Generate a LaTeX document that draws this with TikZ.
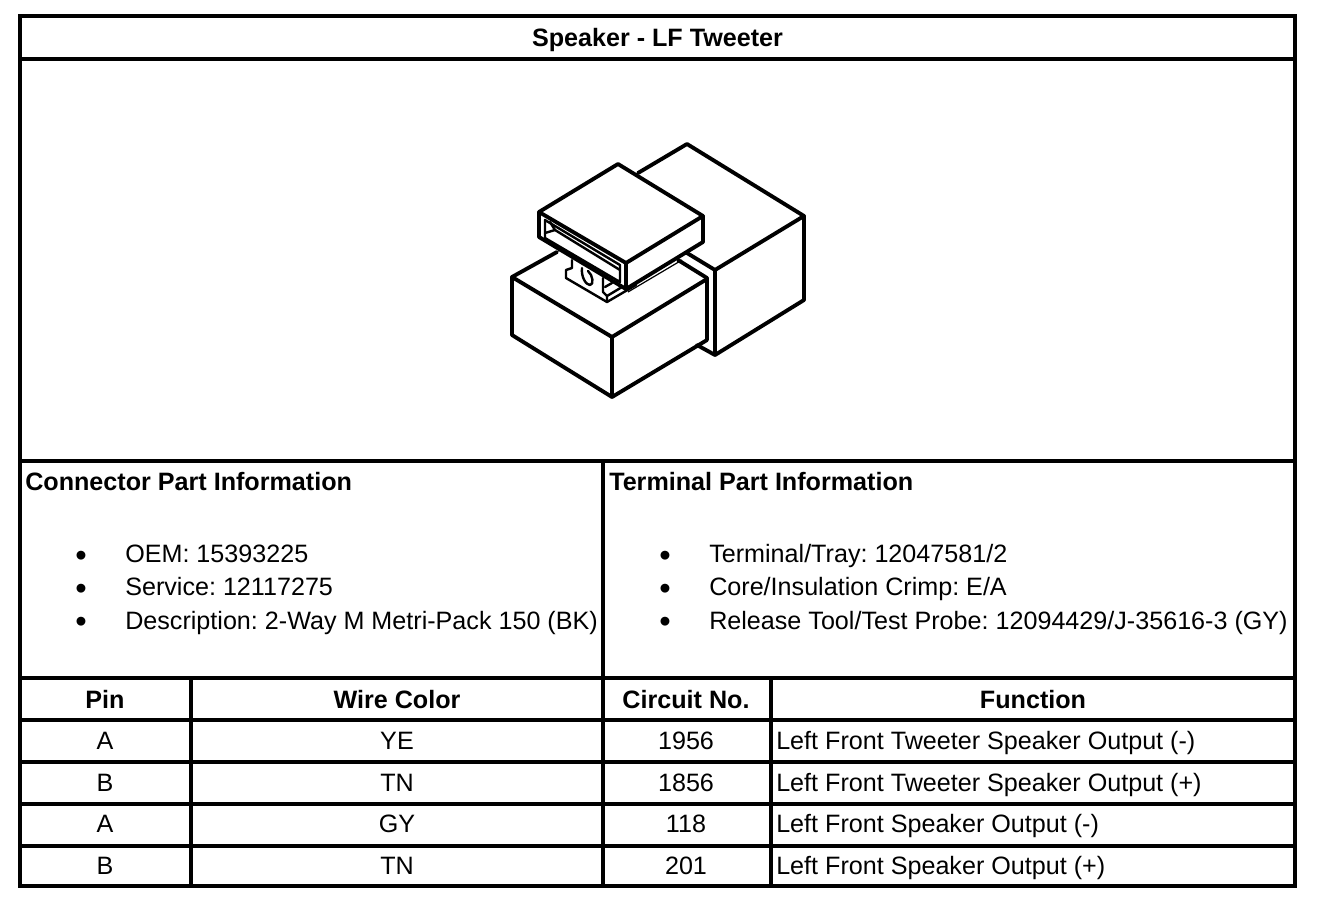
\documentclass[tikz,border=0pt]{standalone}
\usepackage{fontspec}
\setmainfont{Liberation Sans}
\begin{document}
\begin{tikzpicture}[x=0.75pt,y=-0.75pt]
  \tikzstyle{every node}=[inner sep=0, font=\fontsize{18.85}{20}\selectfont\frenchspacing];
  \tikzstyle{rule}=[line width=2.8pt];
  \tikzstyle{part}=[line width=2.9pt, line join=round, line cap=round];
  \tikzstyle{thin part}=[line width=1.8pt, line join=round, line cap=round];
  \tikzstyle{head}=[anchor=base, font=\fontsize{18.85}{20}\selectfont\bfseries];
  \tikzstyle{title}=[anchor=base west, font=\fontsize{18.85}{20}\selectfont\bfseries];
  \tikzstyle{cell}=[anchor=base];
  \tikzstyle{item}=[anchor=base west];
  \tikzstyle{dot}=[anchor=base, font=\fontsize{24.5}{24.5}\selectfont];
  \useasboundingbox (0,0) rectangle (1328,918);
  % table
  \draw[rule] (20,16) rectangle (1295,886);
  \draw[rule] (20,59) -- (1295,59);
  \draw[rule] (20,461) -- (1295,461);
  \draw[rule] (20,678) -- (1295,678);
  \draw[rule] (20,720) -- (1295,720);
  \draw[rule] (20,762) -- (1295,762);
  \draw[rule] (20,804) -- (1295,804);
  \draw[rule] (20,846) -- (1295,846);
  \draw[rule] (603,461) -- (603,886);
  \draw[rule] (191,678) -- (191,886);
  \draw[rule] (771,678) -- (771,886);
  % rear block
  \draw[part] (638,173) -- (687,144) -- (804,216) -- (804,300) -- (715,355) -- (697,345);
  \draw[part] (804,216) -- (715,270) -- (715,355);
  \draw[part] (687,253) -- (715,270);
  \draw[part] (678,260) -- (707,278) -- (707,340);
  % front block
  \draw[part] (557,252) -- (512,277) -- (512,335) -- (612,397) -- (707,340);
  \draw[part] (512,277) -- (612,337) -- (612,397);
  \draw[part] (612,337) -- (707,279);
  % latch
  \draw[thin part] (572,260) -- (572,268) -- (566,270) -- (566,278) -- (607,302) -- (636,285);
  \draw[thin part] (607,302) -- (607,296) -- (622,287);
  \draw[thin part] (603,278) -- (603,292) -- (607,296);
  \draw[thin part] (605,287) -- (612,283);
  \draw[thin part] (582,268) .. controls (581,277) and (586,285) .. (590,285) .. controls (594,285) and (593,275) .. (588,271);
  % plug
  \draw[part] (539,212) -- (618,164) -- (703,216) -- (626,263) -- cycle;
  \draw[part] (539,212) -- (539,237) -- (626,289) -- (703,242) -- (703,216);
  \draw[part] (626,263) -- (626,289);
  \draw[thin part] (545,220) -- (620,265) -- (620,282) -- (545,238) -- cycle;
  \draw[thin part] (545,233) -- (555,230) -- (550,222);
  \draw[thin part] (555,230) -- (620,270);
  \draw[line width=0.9pt] (628,292) -- (682,260);
  % title
  \node[head] (name) at (657.5,46) {Speaker - LF Tweeter};
  % part information
  \node[title] (connector) at (25,490) {Connector Part Information};
  \node[dot] (bulletoem) at (81,566) {•};
  \node[item] (oem) at (125,562) {OEM: 15393225};
  \node[dot] (bulletservice) at (81,599) {•};
  \node[item] (service) at (125,595) {Service: 12117275};
  \node[dot] (bulletdesc) at (81,632) {•};
  \node[item] (desc) at (125,629) {Description: 2-Way M Metri-Pack 150 (BK)};
  \node[title] (terminal) at (609,490) {Terminal Part Information};
  \node[dot] (bullettray) at (665,566) {•};
  \node[item] (tray) at (709,562) {Terminal/Tray: 12047581/2};
  \node[dot] (bulletcrimp) at (665,599) {•};
  \node[item] (crimp) at (709,595) {Core/Insulation Crimp: E/A};
  \node[dot] (bullettool) at (665,632) {•};
  \node[item] (tool) at (709,629) {Release Tool/Test Probe: 12094429/J-35616-3 (GY)};
  % pin table
  \node[head] (pin) at (105,708) {Pin};
  \node[head] (color) at (397,708) {Wire Color};
  \node[head] (circuit) at (686,708) {Circuit No.};
  \node[head] (function) at (1033,708) {Function};
  \node[cell] (pina) at (105,749) {A};
  \node[cell] (colora) at (397,749) {YE};
  \node[cell] (circuita) at (686,749) {1956};
  \node[item] (functiona) at (776,749) {Left Front Tweeter Speaker Output (-)};
  \node[cell] (pinb) at (105,791) {B};
  \node[cell] (colorb) at (397,791) {TN};
  \node[cell] (circuitb) at (686,791) {1856};
  \node[item] (functionb) at (776,791) {Left Front Tweeter Speaker Output (+)};
  \node[cell] (pinc) at (105,832) {A};
  \node[cell] (colorc) at (397,832) {GY};
  \node[cell] (circuitc) at (686,832) {118};
  \node[item] (functionc) at (776,832) {Left Front Speaker Output (-)};
  \node[cell] (pind) at (105,874) {B};
  \node[cell] (colord) at (397,874) {TN};
  \node[cell] (circuitd) at (686,874) {201};
  \node[item] (functiond) at (776,874) {Left Front Speaker Output (+)};
\end{tikzpicture}
\end{document}
